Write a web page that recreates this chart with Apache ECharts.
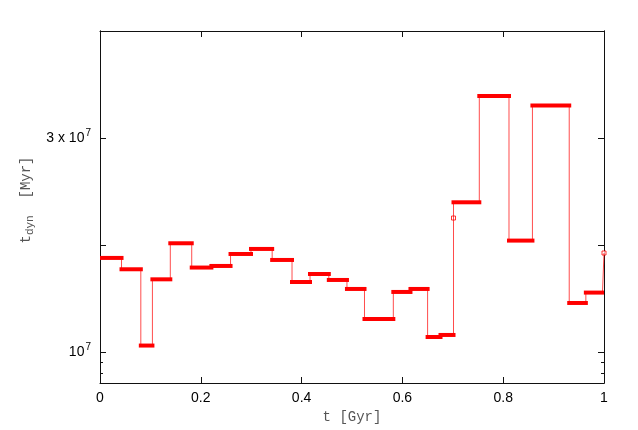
<!DOCTYPE html>
<html>
<head>
<meta charset="utf-8">
<script src="https://cdn.jsdelivr.net/npm/echarts@6/dist/echarts.min.js"></script>
<style>
  html, body { margin: 0; padding: 0; background: #fff; }
  #tdyn-chart { width: 638px; height: 430px; }
</style>
</head>
<body>
<div id="tdyn-chart"></div>
<script>
// step boundaries in Gyr, one value per step in between
const segBounds = [0, 0.0427, 0.081, 0.104, 0.1395, 0.182, 0.221, 0.259, 0.2996, 0.3416,
  0.381, 0.4167, 0.454, 0.490, 0.5248, 0.582, 0.616, 0.650, 0.6756, 0.7014,
  0.7526, 0.8115, 0.858, 0.931, 0.964, 0.997];
const segValues = [1.879e7, 1.773e7, 1.060e7, 1.679e7, 2.016e7, 1.789e7, 1.804e7, 1.916e7,
  1.963e7, 1.860e7, 1.654e7, 1.729e7, 1.673e7, 1.589e7, 1.308e7, 1.561e7, 1.589e7,
  1.140e7, 1.159e7, 2.399e7, 3.393e7, 2.041e7, 3.303e7, 1.458e7, 1.555e7];
// lone points: one in the jump at 0.70 Gyr, one at the end
const loneT = [0.7014, 1.0];
const loneValues = [2.252e7, 1.925e7];

const xTicks = [0, 0.2, 0.4, 0.6, 0.8, 1];
const yMajorTicks = [1e7, 2e7, 3e7];
const yLabelTicks = [1e7, 3e7];
const yMinorTicks = [8e6, 9e6];

// thin connecting line through all steps
const lineData = [];
segValues.forEach((v, i) => {
  lineData.push([segBounds[i], v]);
  lineData.push([segBounds[i + 1], v]);
  if (i === 18) lineData.push([loneT[0], loneValues[0]]);
});
lineData.push([loneT[1], loneValues[1]]);

const barData = segValues.map((v, i) => [segBounds[i], segBounds[i + 1], v]);

const chart = echarts.init(document.getElementById('tdyn-chart'));
const axisColor = '#111';

function yAxisBase(position, ticks, len, withLabel) {
  return {
    type: 'value',
    position: position,
    min: 7.1e6,
    max: 4e7,
    axisLine: { show: true, lineStyle: { color: axisColor, width: 1 } },
    axisTick: { show: true, inside: true, length: len, customValues: ticks,
      lineStyle: { color: axisColor, width: 1 } },
    axisLabel: withLabel ? {
      show: true,
      margin: 9,
      customValues: yLabelTicks,
      formatter: (v) => (Math.round(v / 1e7) === 1 ? '{n|10}{s|7}' : '{n|3 x 10}{s|7}'),
      rich: {
        n: { fontFamily: 'Liberation Sans', fontSize: 14, color: '#000' },
        s: { fontFamily: 'Liberation Sans', fontSize: 10, color: '#000', padding: [0, 0, 9, 1] },
      },
    } : { show: false },
    splitLine: { show: false },
  };
}

chart.setOption({
  animation: false,
  backgroundColor: '#fff',
  grid: { left: 100, right: 34, top: 31, bottom: 47 },
  xAxis: [
    {
      type: 'value',
      position: 'bottom',
      min: 0,
      max: 1,
      interval: 0.2,
      name: 't [Gyr]',
      nameLocation: 'middle',
      nameGap: 23,
      nameTextStyle: { fontFamily: 'Liberation Mono', fontSize: 14, color: '#555' },
      axisLine: { lineStyle: { color: axisColor, width: 1 } },
      axisTick: { inside: true, length: 6, lineStyle: { color: axisColor } },
      axisLabel: { margin: 8, fontFamily: 'Liberation Sans', fontSize: 14, color: '#000',
        customValues: xTicks },
      splitLine: { show: false },
    },
    {
      type: 'value',
      position: 'top',
      min: 0,
      max: 1,
      interval: 0.2,
      axisLine: { show: true, lineStyle: { color: axisColor, width: 1 } },
      axisTick: { show: true, inside: true, length: 6, lineStyle: { color: axisColor } },
      axisLabel: { show: false },
      splitLine: { show: false },
    },
  ],
  yAxis: [
    Object.assign(yAxisBase('left', yMajorTicks, 6, true), {
      name: '{m|t}{sub|dyn}{m|  [Myr]}',
      nameLocation: 'middle',
      nameRotate: 90,
      nameGap: 64,
      nameTextStyle: {
        padding: [0, 0, 0, 14],
        rich: {
          m: { fontFamily: 'Liberation Mono', fontSize: 14, color: '#555' },
          sub: { fontFamily: 'Liberation Mono', fontSize: 11, color: '#555', padding: [8, 0, 0, 0] },
        },
      },
    }),
    yAxisBase('left', yMinorTicks, 3, false),
    yAxisBase('right', yMajorTicks, 6, false),
    yAxisBase('right', yMinorTicks, 3, false),
  ],
  series: [
    {
      type: 'line',
      xAxisIndex: 0,
      yAxisIndex: 0,
      data: lineData,
      showSymbol: false,
      symbol: 'none',
      lineStyle: { color: 'rgba(255, 0, 0, 0.7)', width: 1 },
    },
    {
      type: 'custom',
      xAxisIndex: 0,
      yAxisIndex: 0,
      clip: true,
      data: barData,
      encode: { x: [0, 1], y: 2 },
      renderItem: (params, api) => {
        const p0 = api.coord([api.value(0), api.value(2)]);
        const p1 = api.coord([api.value(1), api.value(2)]);
        return {
          type: 'rect',
          shape: { x: p0[0] - 2, y: p0[1] - 2, width: p1[0] - p0[0] + 4, height: 4 },
          style: { fill: '#ff0000' },
        };
      },
    },
    {
      type: 'scatter',
      xAxisIndex: 0,
      yAxisIndex: 0,
      data: loneT.map((t, i) => [t, loneValues[i]]),
      symbol: 'rect',
      symbolSize: 4,
      itemStyle: { color: '#fff', borderColor: '#ff0000', borderWidth: 1 },
    },
  ],
});
</script>
</body>
</html>
